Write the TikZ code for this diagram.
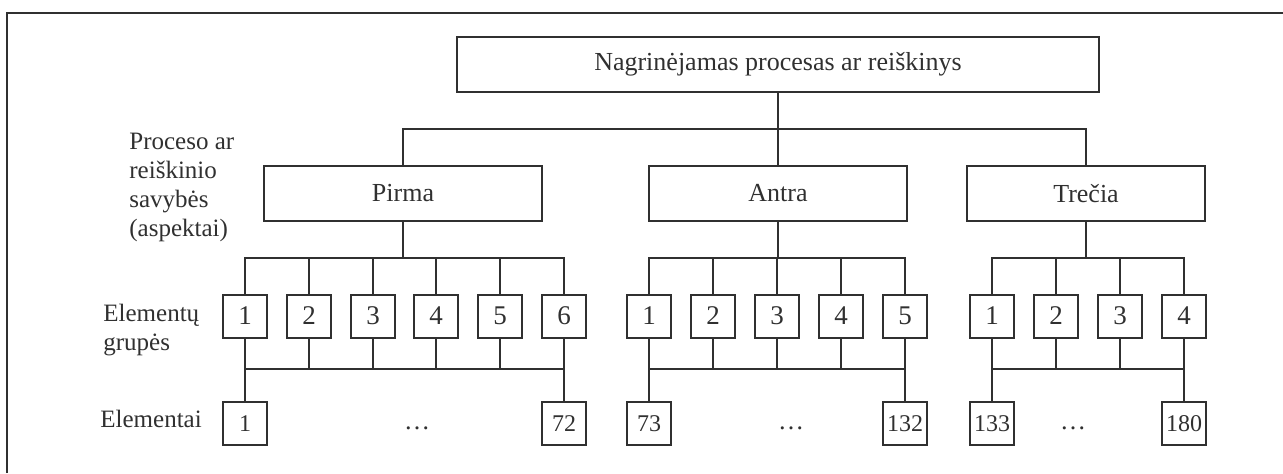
\documentclass[tikz,border=0pt]{standalone}
\usepackage{fontspec}
\setmainfont{Liberation Serif}
\definecolor{ink}{RGB}{48,48,48}
\begin{document}
\begin{tikzpicture}[x=0.5pt,y=-0.5pt,
  every node/.style={text=ink},
  wire/.style={draw=ink, line width=1pt},
  bigbox/.style={draw=ink, line width=1pt, inner sep=0pt, minimum height=27.5pt,
    font=\fontsize{13}{15}\selectfont},
  grpbox/.style={draw=ink, line width=1pt, inner sep=0pt, minimum width=22pt,
    minimum height=21.5pt, font=\fontsize{13.5}{15}\selectfont},
  elbox/.style={draw=ink, line width=1pt, inner sep=0pt, minimum width=22pt,
    minimum height=21.5pt, font=\fontsize{12}{14}\selectfont},
  dotsnode/.style={inner sep=0pt, font=\fontsize{13}{15}\selectfont},
  rowlabel/.style={anchor=west, align=left, inner sep=0pt,
    font=\fontsize{12.5}{14.5}\selectfont}]
\useasboundingbox (0,0) rectangle (1283,473);

% frame (left and top edges)
\draw[wire] (7,473) -- (7,13) -- (1283,13);

% row labels
\node[rowlabel] (lblasp) at (129,187) {Proceso ar\\reiškinio\\savybės\\(aspektai)};
\node[rowlabel] (lblgrp) at (103,330.5) {Elementų\\grupės};
\node[rowlabel] (lblel) at (100,419) {Elementai};

% root
\node[bigbox, minimum width=321pt] (root) at (778,64.5) {Nagrinėjamas procesas ar reiškinys};

% aspects
\node[bigbox, minimum width=139pt] (pir) at (403,193.5) {Pirma};
\node[bigbox, minimum width=129pt] (ant) at (778,193.5) {Antra};
\node[bigbox, minimum width=119pt] (tre) at (1086,193.5) {Trečia};

\coordinate (hub) at (778,129);
\draw[wire] (root.south) -- (ant.north);
\draw[wire] (pir.north) |- (hub) -| (tre.north);

% element groups
\foreach \i/\x in {1/245,2/309,3/373,4/436,5/500,6/564}
  \node[grpbox] (p\i) at (\x,316) {\i};
\foreach \i/\x in {1/649,2/713,3/777,4/841,5/905}
  \node[grpbox] (a\i) at (\x,316) {\i};
\foreach \i/\x in {1/992,2/1056,3/1120,4/1184}
  \node[grpbox] (t\i) at (\x,316) {\i};

% elements
\node[elbox] (e1) at (245,423.5) {1};
\node[elbox] (e72) at (564,423.5) {72};
\node[elbox] (e73) at (649,423.5) {73};
\node[elbox] (e132) at (905,423.5) {132};
\node[elbox] (e133) at (992,423.5) {133};
\node[elbox] (e180) at (1184,423.5) {180};

\node[dotsnode] (pdots) at (417,428) {…};
\node[dotsnode] (adots) at (791,428) {…};
\node[dotsnode] (tdots) at (1073,428) {…};

% upper buses
\coordinate (pbus) at (403,258);
\coordinate (abus) at (778,258);
\coordinate (tbus) at (1086,258);
\draw[wire] (pir.south) -- (pbus);
\draw[wire] (ant.south) -- (abus);
\draw[wire] (tre.south) -- (tbus);
\draw[wire] (p1.north) |- (pbus) -| (p6.north);
\draw[wire] (a1.north) |- (abus) -| (a5.north);
\draw[wire] (t1.north) |- (tbus) -| (t4.north);
\foreach \i in {2,...,5} \draw[wire] (p\i.north) -- (p\i.north |- pbus);
\foreach \i in {2,...,4} \draw[wire] (a\i.north) -- (a\i.north |- abus);
\foreach \i in {2,3} \draw[wire] (t\i.north) -- (t\i.north |- tbus);

% lower buses
\coordinate (low) at (0,369);
\draw[wire] (p1.south) -- (e1.north);
\draw[wire] (p6.south) -- (e72.north);
\draw[wire] (p1.south |- low) -- (p6.south |- low);
\foreach \i in {2,...,5} \draw[wire] (p\i.south) -- (p\i.south |- low);
\draw[wire] (a1.south) -- (e73.north);
\draw[wire] (a5.south) -- (e132.north);
\draw[wire] (a1.south |- low) -- (a5.south |- low);
\foreach \i in {2,...,4} \draw[wire] (a\i.south) -- (a\i.south |- low);
\draw[wire] (t1.south) -- (e133.north);
\draw[wire] (t4.south) -- (e180.north);
\draw[wire] (t1.south |- low) -- (t4.south |- low);
\foreach \i in {2,3} \draw[wire] (t\i.south) -- (t\i.south |- low);
\end{tikzpicture}
\end{document}
